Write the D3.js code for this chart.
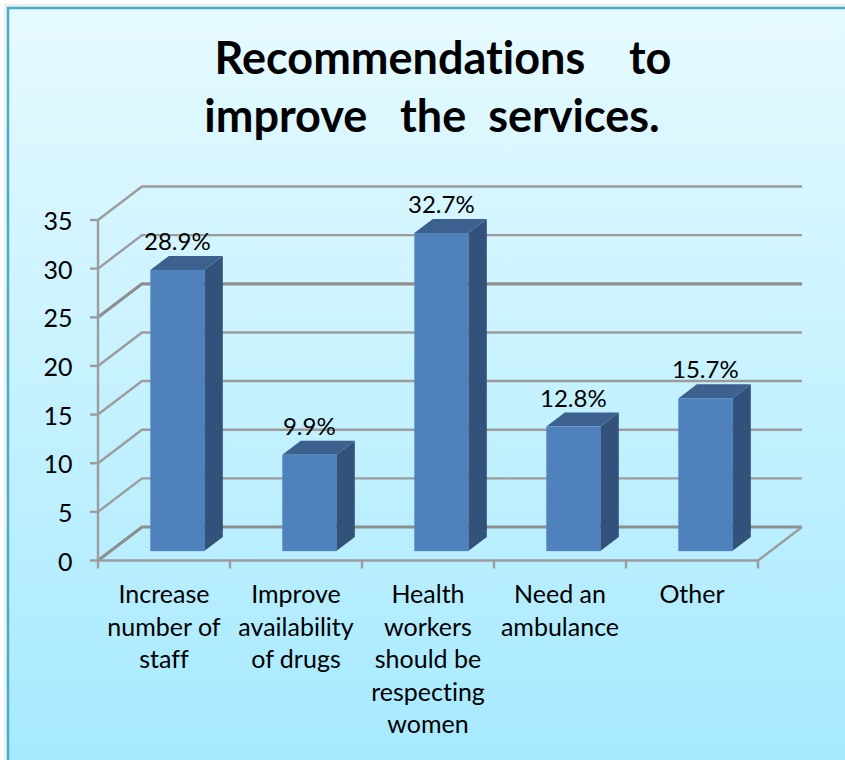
<!DOCTYPE html>
<html>
<head>
<meta charset="utf-8">
<script src="https://d3js.org/d3.v7.min.js"></script>
<style>
html,body{margin:0;padding:0;background:#fff;}
svg{display:block;}
text{font-family:Lato,"Open Sans",sans-serif;fill:#000;font-variant-ligatures:none;}
</style>
</head>
<body>
<svg id="chart" width="845" height="760"></svg>
<script>
// Survey results shown as a 3D-style column chart
const titleLines = ["  Recommendations    to", "improve   the  services."];
const categories = ["Increase|number of|staff", "Improve|availability|of drugs", "Health|workers|should be|respecting|women", "Need an|ambulance", "Other"];
const values = [28.9, 9.9, 32.7, 12.8, 15.7];
const valueLabels = ["28.9%", "9.9%", "32.7%", "12.8%", "15.7%"];
const yTicks = [0, 5, 10, 15, 20, 25, 30, 35];
const heavyGrid = [0, 25];

const svg = d3.select("#chart");
const defs = svg.append("defs");
const grad = defs.append("linearGradient").attr("id", "panel").attr("x1", 0).attr("y1", 0).attr("x2", 0).attr("y2", 1);
grad.append("stop").attr("offset", 0).attr("stop-color", "#e6faff");
grad.append("stop").attr("offset", 1).attr("stop-color", "#a4e9ff");

// Panel with a soft edge on its outer side
svg.append("rect").attr("x", 4).attr("y", 4).attr("width", 860).attr("height", 780).attr("fill", "#efefef");
svg.append("rect").attr("x", 8).attr("y", 8).attr("width", 860).attr("height", 780)
  .attr("fill", "url(#panel)").attr("stroke", "#45aec8").attr("stroke-width", 2.5);

// Front plane of the plot box and the oblique depth offset
const y = d3.scaleLinear().domain([0, 35]).range([560.5, 220]);
const x = d3.scaleBand().domain(d3.range(categories.length)).range([98, 758]);
const depth = d3.scaleLinear().domain([0, 1]).range([0, 44]);
const lift = d3.scaleLinear().domain([0, 1]).range([0, -33.5]);
const gridColor = "#9c9c9c";

// Floor and wall gridlines
const grid = svg.append("g").attr("fill", "none").attr("stroke", gridColor);
grid.selectAll("path").data(yTicks).join("path")
  .attr("stroke-width", d => heavyGrid.includes(d) ? 3.2 : 2.4)
  .attr("stroke", d => heavyGrid.includes(d) ? "#8e8e8e" : gridColor)
  .attr("d", d => `M98,${y(d)}L${98 + depth(1)},${y(d) + lift(1)}H${758 + depth(1)}`);

// Floor edges and axis lines
const axisG = svg.append("g").attr("fill", "none").attr("stroke", gridColor).attr("stroke-width", 2.4);
axisG.append("path").attr("d", `M98,${y(35)}V${y(0)}H758L${758 + depth(1)},${y(0) + lift(1)}`);
axisG.selectAll(".ytick").data(yTicks).join("line").attr("class", "ytick")
  .attr("x1", 90).attr("x2", 98).attr("y1", d => y(d)).attr("y2", d => y(d));
axisG.selectAll(".xtick").data(d3.range(categories.length + 1)).join("line").attr("class", "xtick")
  .attr("x1", i => 98 + i * x.step()).attr("x2", i => 98 + i * x.step())
  .attr("y1", y(0)).attr("y2", y(0) + 8);

// Tick labels for the value axis
svg.append("g").selectAll("text").data(yTicks).join("text")
  .attr("x", 72.5).attr("y", d => y(d) + 10).attr("text-anchor", "end")
  .attr("font-size", 25).text(d => d);

// Columns: each has a front face, a top face and a darker side face
const barWidth = 54, nearFrac = 0.28, farFrac = 0.70;
const nearDx = depth(nearFrac), farDx = depth(farFrac);
const nearDy = lift(nearFrac), farDy = lift(farFrac);
const bars = svg.append("g").selectAll("g").data(values).join("g");
const bx = (d, i) => x(i) + (x.bandwidth() - barWidth) / 2 + nearDx + 1;
bars.append("path").attr("fill", "#32527c")
  .attr("d", (d, i) => {
    const r = bx(d, i) + barWidth, t = y(d) + nearDy, b = y(0) + nearDy;
    const ox = farDx - nearDx, oy = farDy - nearDy;
    return `M${r},${t}l${ox},${oy}V${b + oy}L${r},${b}Z`;
  });
bars.append("path").attr("fill", "#3c618f")
  .attr("d", (d, i) => {
    const l = bx(d, i), t = y(d) + nearDy;
    const ox = farDx - nearDx, oy = farDy - nearDy;
    return `M${l},${t}l${ox},${oy}h${barWidth}l${-ox},${-oy}Z`;
  });
bars.append("rect").attr("fill", "#4f81bd")
  .attr("x", bx).attr("y", d => y(d) + nearDy)
  .attr("width", barWidth).attr("height", d => y(0) - y(d));

// Percentage labels above the columns
svg.append("g").selectAll("text").data(values).join("text")
  .attr("x", (d, i) => bx(d, i) + barWidth / 2)
  .attr("y", d => y(d) + farDy - 6)
  .attr("text-anchor", "middle").attr("font-size", 24)
  .text((d, i) => valueLabels[i]);

// Multi-line category labels
svg.append("g").selectAll("text").data(categories).join("text")
  .attr("text-anchor", "middle").attr("font-size", 25)
  .each(function (d, i) {
    d3.select(this).selectAll("tspan").data(d.split("|")).join("tspan")
      .attr("x", x(i) + x.bandwidth() / 2)
      .attr("y", (s, j) => 603 + j * 32.5)
      .text(s => s);
  });

// Title
svg.append("g").selectAll("text").data(titleLines).join("text")
  .attr("x", 432).attr("y", (d, i) => 74 + i * 58)
  .attr("text-anchor", "middle").attr("font-size", 45).attr("font-weight", 700)
  .style("white-space", "pre")
  .text(d => d);
</script>
</body>
</html>
